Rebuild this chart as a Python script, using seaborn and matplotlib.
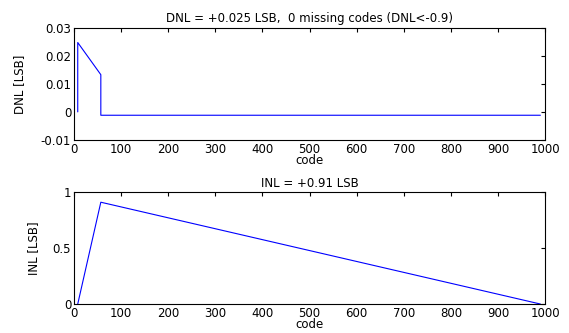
import matplotlib
matplotlib.use("Agg")
import matplotlib.pyplot as plt
import seaborn as sns
import pandas as pd

# Data
dnl_code = [8, 8, 57, 57, 990]
dnl_vals = [0.0, 0.0248, 0.0133, -0.0012, -0.0012]
inl_code = [8, 57, 990]
inl_vals = [0.0, 0.91, 0.0]

xticks = [0, 100, 200, 300, 400, 500, 600, 700, 800, 900, 1000]
dnl_yticks = [-0.01, 0, 0.01, 0.02, 0.03]
dnl_ylabels = ["-0.01", "0", "0.01", "0.02", "0.03"]
inl_yticks = [0, 0.5, 1]
inl_ylabels = ["0", "0.5", "1"]

sns.set_style("white")
plt.rcParams['font.family'] = ['DejaVu Sans']
plt.rcParams['text.color'] = 'black'
plt.rcParams['axes.labelcolor'] = 'black'
FS = 8.5
plt.rcParams['font.size'] = FS

fig = plt.figure(figsize=(5.69, 3.33), dpi=100)
ax1 = fig.add_axes([0.130, 0.580, 0.828, 0.336])
ax2 = fig.add_axes([0.130, 0.087, 0.828, 0.336])

df1 = pd.DataFrame({"code": dnl_code, "DNL": dnl_vals})
df2 = pd.DataFrame({"code": inl_code, "INL": inl_vals})

sns.lineplot(data=df1, x="code", y="DNL", ax=ax1, color="#0000ff", lw=0.8, sort=False, estimator=None)
sns.lineplot(data=df2, x="code", y="INL", ax=ax2, color="#0000ff", lw=0.8, sort=False, estimator=None)

for ax in (ax1, ax2):
    ax.set_xlim(0, 1000)
    ax.set_xticks(xticks)
    ax.set_xticklabels([str(t) for t in xticks])
    ax.tick_params(direction='in', top=True, right=True, length=3, width=0.8,
                   labelsize=FS, pad=2, colors='black')
    for s in ax.spines.values():
        s.set_visible(True)
        s.set_color('black')
        s.set_linewidth(0.8)
    ax.set_xlabel("code", fontsize=FS, labelpad=-1, color='black')

ax1.set_ylim(-0.01, 0.03)
ax1.set_yticks(dnl_yticks)
ax1.set_yticklabels(dnl_ylabels)
ax1.set_ylabel("DNL [LSB]", fontsize=FS, labelpad=11, color='black')
ax1.set_title("DNL = +0.025 LSB,  0 missing codes (DNL<-0.9)", fontsize=FS, pad=4, color='black')

ax2.set_ylim(0, 1)
ax2.set_yticks(inl_yticks)
ax2.set_yticklabels(inl_ylabels)
ax2.set_ylabel("INL [LSB]", fontsize=FS, labelpad=9, color='black')
ax2.set_title("INL = +0.91 LSB", fontsize=FS, pad=4, color='black')

fig.savefig("out.png", dpi=100)
